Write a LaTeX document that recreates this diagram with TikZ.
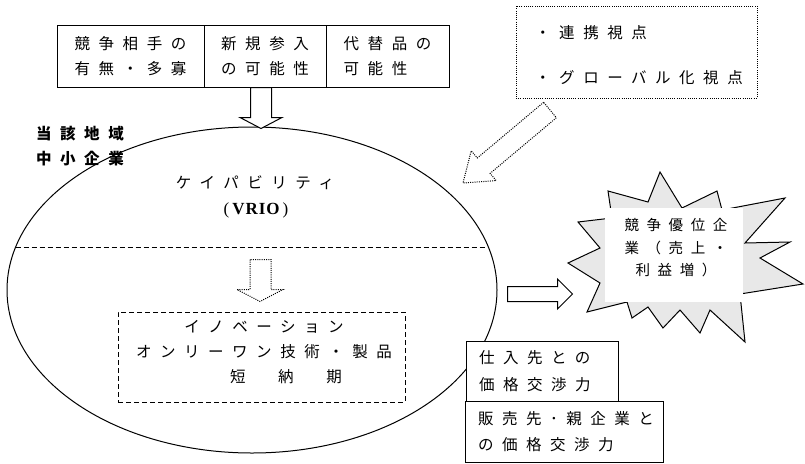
\documentclass[tikz,border=0pt]{standalone}
\usepackage{fontspec}
\setmainfont{Liberation Serif}
\newfontfamily\jp[LetterSpace=55]{Noto Sans CJK JP}
\newfontfamily\jpstar[LetterSpace=52]{Noto Sans CJK JP}
\usetikzlibrary{shapes.geometric,calc}
\tikzset{
  line/.style={line width=1pt},
  box/.style={draw, line width=1pt, fill=white, inner sep=0pt},
  dotline/.style={line width=1pt, dash pattern=on 1pt off 1.2pt},
  dashline/.style={line width=1pt, dash pattern=on 5pt off 3pt},
  jt/.style={font=\jp\fontsize{15.5}{25}\selectfont},
}
\begin{document}
\begin{tikzpicture}[x=1pt,y=-1pt]
\useasboundingbox (0,0) rectangle (805,463);
% top boxes
\node[box, jt, minimum width=147pt, minimum height=62pt, align=left] (b1) at (130.5,56) {競争相手の\\有無・多寡};
\node[box, jt, minimum width=122pt, minimum height=62pt, align=left] (b2) at (265,56) {新規参入\\の可能性};
\node[box, jt, minimum width=123pt, minimum height=62pt, align=left] (b3) at (387.5,56) {代替品の\\可能性};
% label
\node[font=\jp\bfseries\fontsize{15.5}{25}\selectfont, align=left] (lbl) at (80,146) {当該地域\\中小企業};
% ellipse
\node[draw, line, ellipse, minimum width=490pt, minimum height=326pt, inner sep=0pt] (ell) at (252,290) {};
\draw[dashline] ($(ell.center)+(-236.5,-43)$) -- ($(ell.center)+(236.5,-43)$);
% down arrow
\draw[line, fill=white] ($(b2.south)+(-14.5,0)$) -- ++(0,30) -- ++(-10.5,0) -- ++(21,11) -- ++(21,-11) -- ++(-10.5,0) -- ++(0,-30) -- cycle;
% ellipse texts
\node[jt] (cap) at (255,183) {ケイパビリティ};
\node[font=\fontsize{17}{19}\selectfont] (vrio) at (256,210) {(\kern3pt\textbf{V\kern1pt R\kern1pt I\kern1pt O}\kern3pt)};
% dashed box
\node[draw, dashline, minimum width=287pt, minimum height=90pt] (db) at (261.5,357) {};
\node[jt, align=center] (dbt) at (264,352.5) {イノベーション\\オンリーワン技術・製品\\\hspace*{44pt}短　納　期};
% dotted arrow inside
\draw[dotline] ($(db.north)+(-11.5,-52)$) -- ++(0,30) -- ++(-13,0) -- ++(23,12) -- ++(23,-12) -- ++(-12,0) -- ++(0,-30) -- cycle;
% top-right dotted box
\node[draw, dotline, minimum width=241pt, minimum height=92pt] (tr) at (636.5,52) {};
\node[font=\jp\fontsize{15.5}{45}\selectfont, align=left] (trt) at (639,55.5) {・連携視点\\・グローバル化視点};
% diagonal dotted arrow
\draw[dotline] (543.6,102.3) -- (477.3,158.0) -- (471.2,150.8) -- (463,183) -- (496.2,180.6) -- (490.1,173.4) -- (556.4,117.7) -- cycle;
% right arrow
\draw[line, fill=white] ($(ell.east)+(10,-3.5)$) -- ++(50,0) -- ++(0,-7.5) -- ++(15,15) -- ++(-15,15) -- ++(0,-7.5) -- ++(-50,0) -- cycle;
% star
\draw[line, fill=gray!18, line join=miter] (660,172) -- (682,208) -- (717,191) -- (722,210) -- (785,198) -- (745,243) -- (790,242) -- (760,258) -- (803,284) -- (740,294) -- (745,342) -- (710,310) -- (700,333) -- (680,310) -- (663,328) -- (648,307) -- (632,318) -- (627,302) -- (587,312) -- (600,283) -- (568,263) -- (600,248) -- (578,222) -- (612,218) -- (608,191) -- (648,202) -- cycle;
\node[fill=white, minimum width=138pt, minimum height=94pt, inner sep=0pt] (sbox) at (674,255) {};
\node[font=\jpstar\fontsize{14.5}{22.5}\selectfont, align=center] (stxt) at (676,248) {競争優位企\\業（売上・\\利益増）};
% bottom boxes
\node[box, text width=126pt, inner xsep=13pt, minimum height=60pt, align=left, font=\jp\fontsize{15.5}{27}\selectfont] (p1) at (542,371) {仕入先との\\価格交渉力};
\node[box, text width=172pt, inner xsep=13pt, minimum height=61pt, align=left, font=\jp\fontsize{15.5}{26}\selectfont] (p2) at (564,431.5) {販売先･親企業と\\の価格交渉力};
\end{tikzpicture}
\end{document}
